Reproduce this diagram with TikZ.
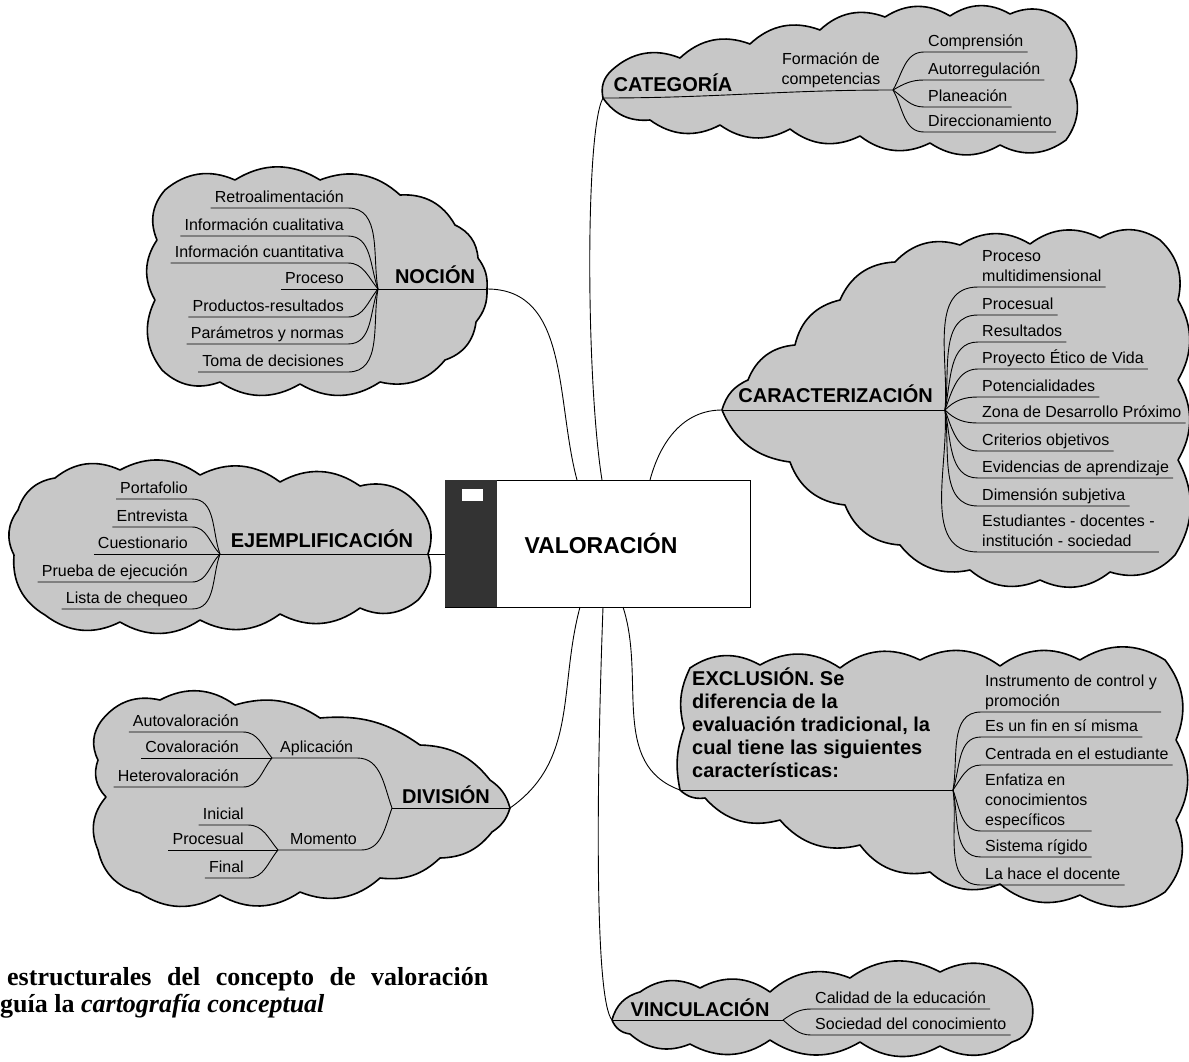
\documentclass[tikz,border=0pt]{standalone}
\usepackage{fontspec}
\setmainfont{Liberation Sans}
\newfontfamily\capfont{Liberation Serif}
\usetikzlibrary{positioning}

\begin{document}
\begin{tikzpicture}[
    x=1pt, y=1pt,
    blob/.style={draw, fill=black!22, line width=1.6pt, line join=round},
    link/.style={line width=0.9pt},
    item/.style={font=\fontsize{16}{20}\selectfont, inner xsep=4pt, inner ysep=1pt, text depth=4pt},
    litem/.style={item, align=right, anchor=south east},
    ritem/.style={item, align=left, anchor=south west},
    head/.style={font=\bfseries\fontsize{20}{24}\selectfont, inner sep=0pt, anchor=base},
]
\path[use as bounding box, fill=white] (0,0) rectangle (1189,-1061);

% Clouds
\draw[blob] (155,-300) \foreach \x/\y/\b in {157/-240/32, 165/-190/32, 235/-180/32, 320/-180/32, 400/-195/32, 455/-225/32, 478/-258/30, 487/-289/20, 476/-322/20, 445/-360/32, 380/-382/32, 300/-384/32, 220/-382/32, 162/-370/32, 155/-300/32} { to[bend left=\b] (\x,\y) };
\draw[blob] (603,-98) \foreach \x/\y/\b in {612/-70/30, 680/-58/32, 750/-44/32, 820/-30/32, 885/-17/32, 950/-16/32, 1010/-14/32, 1065/-22/32, 1070/-80/32, 1066/-140/32, 1000/-145/32, 930/-143/32, 860/-136/32, 790/-129/32, 720/-125/32, 650/-120/32, 603/-98/30} { to[bend left=\b] (\x,\y) };
\draw[blob] (722,-410) \foreach \x/\y/\b in {748/-380/25, 795/-345/32, 840/-300/32, 895/-262/32, 960/-245/32, 1030/-244/32, 1100/-238/32, 1160/-240/32, 1178/-300/30, 1178/-380/30, 1178/-460/30, 1175/-555/30, 1110/-572/32, 1040/-580/32, 970/-570/32, 900/-545/32, 845/-505/32, 790/-462/32, 722/-410/30} { to[bend left=\b] (\x,\y) };
\draw[blob] (14,-555) \foreach \x/\y/\b in {18/-510/32, 55/-478/32, 120/-470/32, 200/-475/32, 280/-482/32, 360/-486/32, 418/-505/32, 428/-554/30, 418/-600/30, 360/-608/32, 280/-614/32, 200/-620/32, 120/-622/32, 45/-615/32, 14/-555/32} { to[bend left=\b] (\x,\y) };
\draw[blob] (98,-760) \foreach \x/\y/\b in {102/-720/32, 160/-700/32, 235/-705/32, 320/-718/25, 420/-745/20, 490/-780/25, 510/-808/20, 492/-832/20, 440/-858/25, 380/-878/25, 300/-892/32, 220/-895/32, 140/-893/32, 98/-850/32, 106/-797/32, 98/-760/32} { to[bend left=\b] (\x,\y) };
\draw[blob] (680,-790) \foreach \x/\y/\b in {684/-728/15, 690/-668/20, 760/-665/32, 840/-668/32, 920/-660/32, 1000/-666/32, 1080/-660/32, 1165/-660/32, 1176/-740/30, 1176/-820/30, 1165/-892/32, 1080/-895/32, 1000/-884/32, 930/-872/32, 860/-845/32, 780/-820/32, 705/-798/32, 680/-790/25} { to[bend left=\b] (\x,\y) };
\draw[blob] (612,-1020) \foreach \x/\y/\b in {640/-992/30, 700/-988/32, 770/-992/32, 850/-978/32, 940/-972/32, 1015/-978/32, 1032/-1020/32, 1012/-1042/32, 940/-1046/32, 860/-1042/32, 770/-1040/32, 690/-1044/32, 630/-1034/32, 612/-1020/30} { to[bend left=\b] (\x,\y) };

% Central box
\node (val) [draw, fill=white, link, minimum width=305, minimum height=127, font=\bfseries\fontsize{23}{26}\selectfont] at (597.5,-543.5) {\hspace{7pt}VALORACIÓN};
\node (band) [fill=black!80, minimum width=52, minimum height=127, inner sep=0pt, anchor=north west] at (val.north west) {};
\node (tab) [fill=white, minimum width=21, minimum height=12, inner sep=0pt, anchor=north west] at (462,-489) {};
\coordinate (vN1) at (577,-480);
\coordinate (vN2) at (602,-480);
\coordinate (vN3) at (650,-480);
\coordinate (vS1) at (580,-607);
\coordinate (vS2) at (603,-607);
\coordinate (vS3) at (623,-607);
\coordinate (vW) at (445,-554);

% Hubs and tips
\coordinate (nochub) at (378,-289);
\coordinate (noctip) at (487,-289);
\coordinate (cathub) at (893,-90);
\coordinate (cattip) at (603,-98);
\coordinate (carhub) at (945,-410);
\coordinate (cartip) at (722,-410);
\coordinate (ejehub) at (220,-554);
\coordinate (divhub) at (392,-808);
\coordinate (divtip) at (510,-808);
\coordinate (aphub) at (272,-758);
\coordinate (momhub) at (278,-850);
\coordinate (exchub) at (953,-790);
\coordinate (exctip) at (680,-790);
\coordinate (vinhub) at (783,-1020);
\coordinate (vintip) at (612,-1020);

% Headings
\node (noc) [head] at (435,-283) {NOCIÓN};
\node (cat) [head] at (673,-91) {CATEGORÍA};
\node (car) [head, anchor=base east] at (933,-402) {CARACTERIZACIÓN};
\node (eje) [head] at (322,-547) {EJEMPLIFICACIÓN};
\node (div) [head] at (446,-803) {DIVISIÓN};
\node (vin) [head] at (700,-1016) {VINCULACIÓN};
\node (exc) [font=\bfseries\fontsize{20}{23}\selectfont, align=left, anchor=north west, inner sep=0pt] at (692,-668) {EXCLUSIÓN. Se\\diferencia de la\\evaluación tradicional, la\\cual tiene las siguientes\\características:};

% Noción
\node (retro) [litem] at (348,-208) {Retroalimentación};
\node (icual) [litem] at (348,-236) {Información cualitativa};
\node (icuant) [litem] at (348,-263) {Información cuantitativa};
\node (proc) [litem] at (348,-289) {Proceso};
\node (prodres) [litem] at (348,-317) {Productos-resultados};
\node (param) [litem] at (348,-344) {Parámetros y normas};
\node (toma) [litem] at (348,-372) {Toma de decisiones};

% Categoría
\node (formacion) [item, align=center, anchor=south] at (831,-90) {Formación de\\competencias};
\node (compr) [ritem] at (924,-52) {Comprensión};
\node (autorr) [ritem] at (924,-80) {Autorregulación};
\node (plan) [ritem] at (924,-107) {Planeación};
\node (direcc) [ritem] at (924,-132) {Direccionamiento};

% Caracterización
\node (procmult) [ritem] at (978,-287) {Proceso\\multidimensional};
\node (procesual) [ritem] at (978,-315) {Procesual};
\node (result) [ritem] at (978,-342) {Resultados};
\node (proyecto) [ritem] at (978,-369) {Proyecto Ético de Vida};
\node (potenc) [ritem] at (978,-397) {Potencialidades};
\node (zona) [ritem] at (978,-423) {Zona de Desarrollo Próximo};
\node (criter) [ritem] at (978,-451) {Criterios objetivos};
\node (evid) [ritem] at (978,-478) {Evidencias de aprendizaje};
\node (dimsub) [ritem] at (978,-506) {Dimensión subjetiva};
\node (estud) [ritem] at (978,-552) {Estudiantes - docentes -\\institución - sociedad};

% Ejemplificación
\node (portaf) [litem] at (192,-499) {Portafolio};
\node (entrev) [litem] at (192,-527) {Entrevista};
\node (cuest) [litem] at (192,-554) {Cuestionario};
\node (prueba) [litem] at (192,-582) {Prueba de ejecución};
\node (lista) [litem] at (192,-609) {Lista de chequeo};

% División
\node (aplic) [item, anchor=south west] at (276,-758) {Aplicación};
\node (momento) [item, anchor=south west] at (286,-850) {Momento};
\node (autov) [litem] at (243,-732) {Autovaloración};
\node (cov) [litem] at (243,-758) {Covaloración};
\node (heterov) [litem] at (243,-787) {Heterovaloración};
\node (inicial) [litem] at (248,-825) {Inicial};
\node (momproc) [litem] at (248,-850) {Procesual};
\node (final) [litem] at (248,-878) {Final};

% Exclusión
\node (instrum) [ritem] at (981,-712) {Instrumento de control y\\promoción};
\node (finmisma) [ritem] at (981,-737) {Es un fin en sí misma};
\node (centrada) [ritem] at (981,-765) {Centrada en el estudiante};
\node (enfatiza) [ritem] at (981,-831) {Enfatiza en\\conocimientos\\específicos};
\node (sistema) [ritem] at (981,-857) {Sistema rígido};
\node (hacedoc) [ritem] at (981,-885) {La hace el docente};

% Vinculación
\node (calidad) [ritem] at (811,-1009) {Calidad de la educación};
\node (sociedad) [ritem] at (811,-1035) {Sociedad del conocimiento};

% Caption
\node (cap1) [anchor=base west, inner sep=0pt, font=\capfont\bfseries\fontsize{26}{28}\selectfont] at (7,-985) {\makebox[481pt][s]{estructurales del concepto de valoración}};
\node (cap2) [anchor=base west, inner sep=0pt, font=\capfont\bfseries\fontsize{26}{28}\selectfont] at (0,-1012) {guía la \textit{cartografía conceptual}};

% Lines of the noción cloud
\draw[link] (proc.south west) -- (noctip);
\draw[link] (retro.south west) -- (retro.south east) to[out=0,in=100] (nochub);
\draw[link] (icual.south west) -- (icual.south east) to[out=0,in=110] (nochub);
\draw[link] (icuant.south west) -- (icuant.south east) to[out=0,in=130] (nochub);
\draw[link] (prodres.south west) -- (prodres.south east) to[out=0,in=230] (nochub);
\draw[link] (param.south west) -- (param.south east) to[out=0,in=250] (nochub);
\draw[link] (toma.south west) -- (toma.south east) to[out=0,in=260] (nochub);

% Lines of the categoría cloud
\draw[link] (cattip) to[out=0,in=180] (cathub);
\draw[link] (cathub) to[out=60,in=180] (compr.south west) -- (compr.south east);
\draw[link] (cathub) to[out=30,in=180] (autorr.south west) -- (autorr.south east);
\draw[link] (cathub) to[out=-35,in=180] (plan.south west) -- (plan.south east);
\draw[link] (cathub) to[out=-60,in=180] (direcc.south west) -- (direcc.south east);

% Lines of the caracterización cloud
\draw[link] (cartip) -- (carhub);
\draw[link] (carhub) to[out=85,in=180] (procmult.south west) -- (procmult.south east);
\draw[link] (carhub) to[out=82,in=180] (procesual.south west) -- (procesual.south east);
\draw[link] (carhub) to[out=78,in=180] (result.south west) -- (result.south east);
\draw[link] (carhub) to[out=70,in=180] (proyecto.south west) -- (proyecto.south east);
\draw[link] (carhub) to[out=45,in=180] (potenc.south west) -- (potenc.south east);
\draw[link] (carhub) to[out=-45,in=180] (zona.south west) -- (zona.south east);
\draw[link] (carhub) to[out=-70,in=180] (criter.south west) -- (criter.south east);
\draw[link] (carhub) to[out=-78,in=180] (evid.south west) -- (evid.south east);
\draw[link] (carhub) to[out=-82,in=180] (dimsub.south west) -- (dimsub.south east);
\draw[link] (carhub) to[out=-86,in=180] (estud.south west) -- (estud.south east);

% Lines of the ejemplificación cloud
\draw[link] (cuest.south west) -- (vW);
\draw[link] (portaf.south west) -- (portaf.south east) to[out=0,in=110] (ejehub);
\draw[link] (entrev.south west) -- (entrev.south east) to[out=0,in=135] (ejehub);
\draw[link] (prueba.south west) -- (prueba.south east) to[out=0,in=225] (ejehub);
\draw[link] (lista.south west) -- (lista.south east) to[out=0,in=250] (ejehub);

% Lines of the división cloud
\draw[link] (divhub) -- (divtip);
\draw[link] (aphub) -- (aplic.south west) -- (aplic.south east) to[out=0,in=110] (divhub);
\draw[link] (momhub) -- (momento.south west) -- (momento.south east) to[out=0,in=250] (divhub);
\draw[link] (autov.south west) -- (autov.south east) to[out=0,in=130] (aphub);
\draw[link] (cov.south west) -- (aphub);
\draw[link] (heterov.south west) -- (heterov.south east) to[out=0,in=230] (aphub);
\draw[link] (inicial.south west) -- (inicial.south east) to[out=0,in=130] (momhub);
\draw[link] (momproc.south west) -- (momhub);
\draw[link] (final.south west) -- (final.south east) to[out=0,in=230] (momhub);

% Lines of the exclusión cloud
\draw[link] (exctip) -- (exchub);
\draw[link] (exchub) to[out=80,in=180] (instrum.south west) -- (instrum.south east);
\draw[link] (exchub) to[out=72,in=180] (finmisma.south west) -- (finmisma.south east);
\draw[link] (exchub) to[out=55,in=180] (centrada.south west) -- (centrada.south east);
\draw[link] (exchub) to[out=-70,in=180] (enfatiza.south west) -- (enfatiza.south east);
\draw[link] (exchub) to[out=-78,in=180] (sistema.south west) -- (sistema.south east);
\draw[link] (exchub) to[out=-82,in=180] (hacedoc.south west) -- (hacedoc.south east);

% Lines of the vinculación cloud
\draw[link] (vintip) -- (vinhub);
\draw[link] (vinhub) to[out=35,in=180] (calidad.south west) -- (calidad.south east);
\draw[link] (vinhub) to[out=-40,in=180] (sociedad.south west) -- (sociedad.south east);

% From the centre to the clouds
\draw[link] (noctip) to[out=0,in=105] (vN1);
\draw[link] (cattip) .. controls (585,-130) and (586,-380) .. (vN2);
\draw[link] (vN3) to[out=75,in=180] (cartip);
\draw[link] (divtip) to[out=35,in=255] (vS1);
\draw[link] (vS2) .. controls (596,-800) and (595,-1000) .. (vintip);
\draw[link] (vS3) to[out=-72,in=160] (exctip);

\end{tikzpicture}
\end{document}
